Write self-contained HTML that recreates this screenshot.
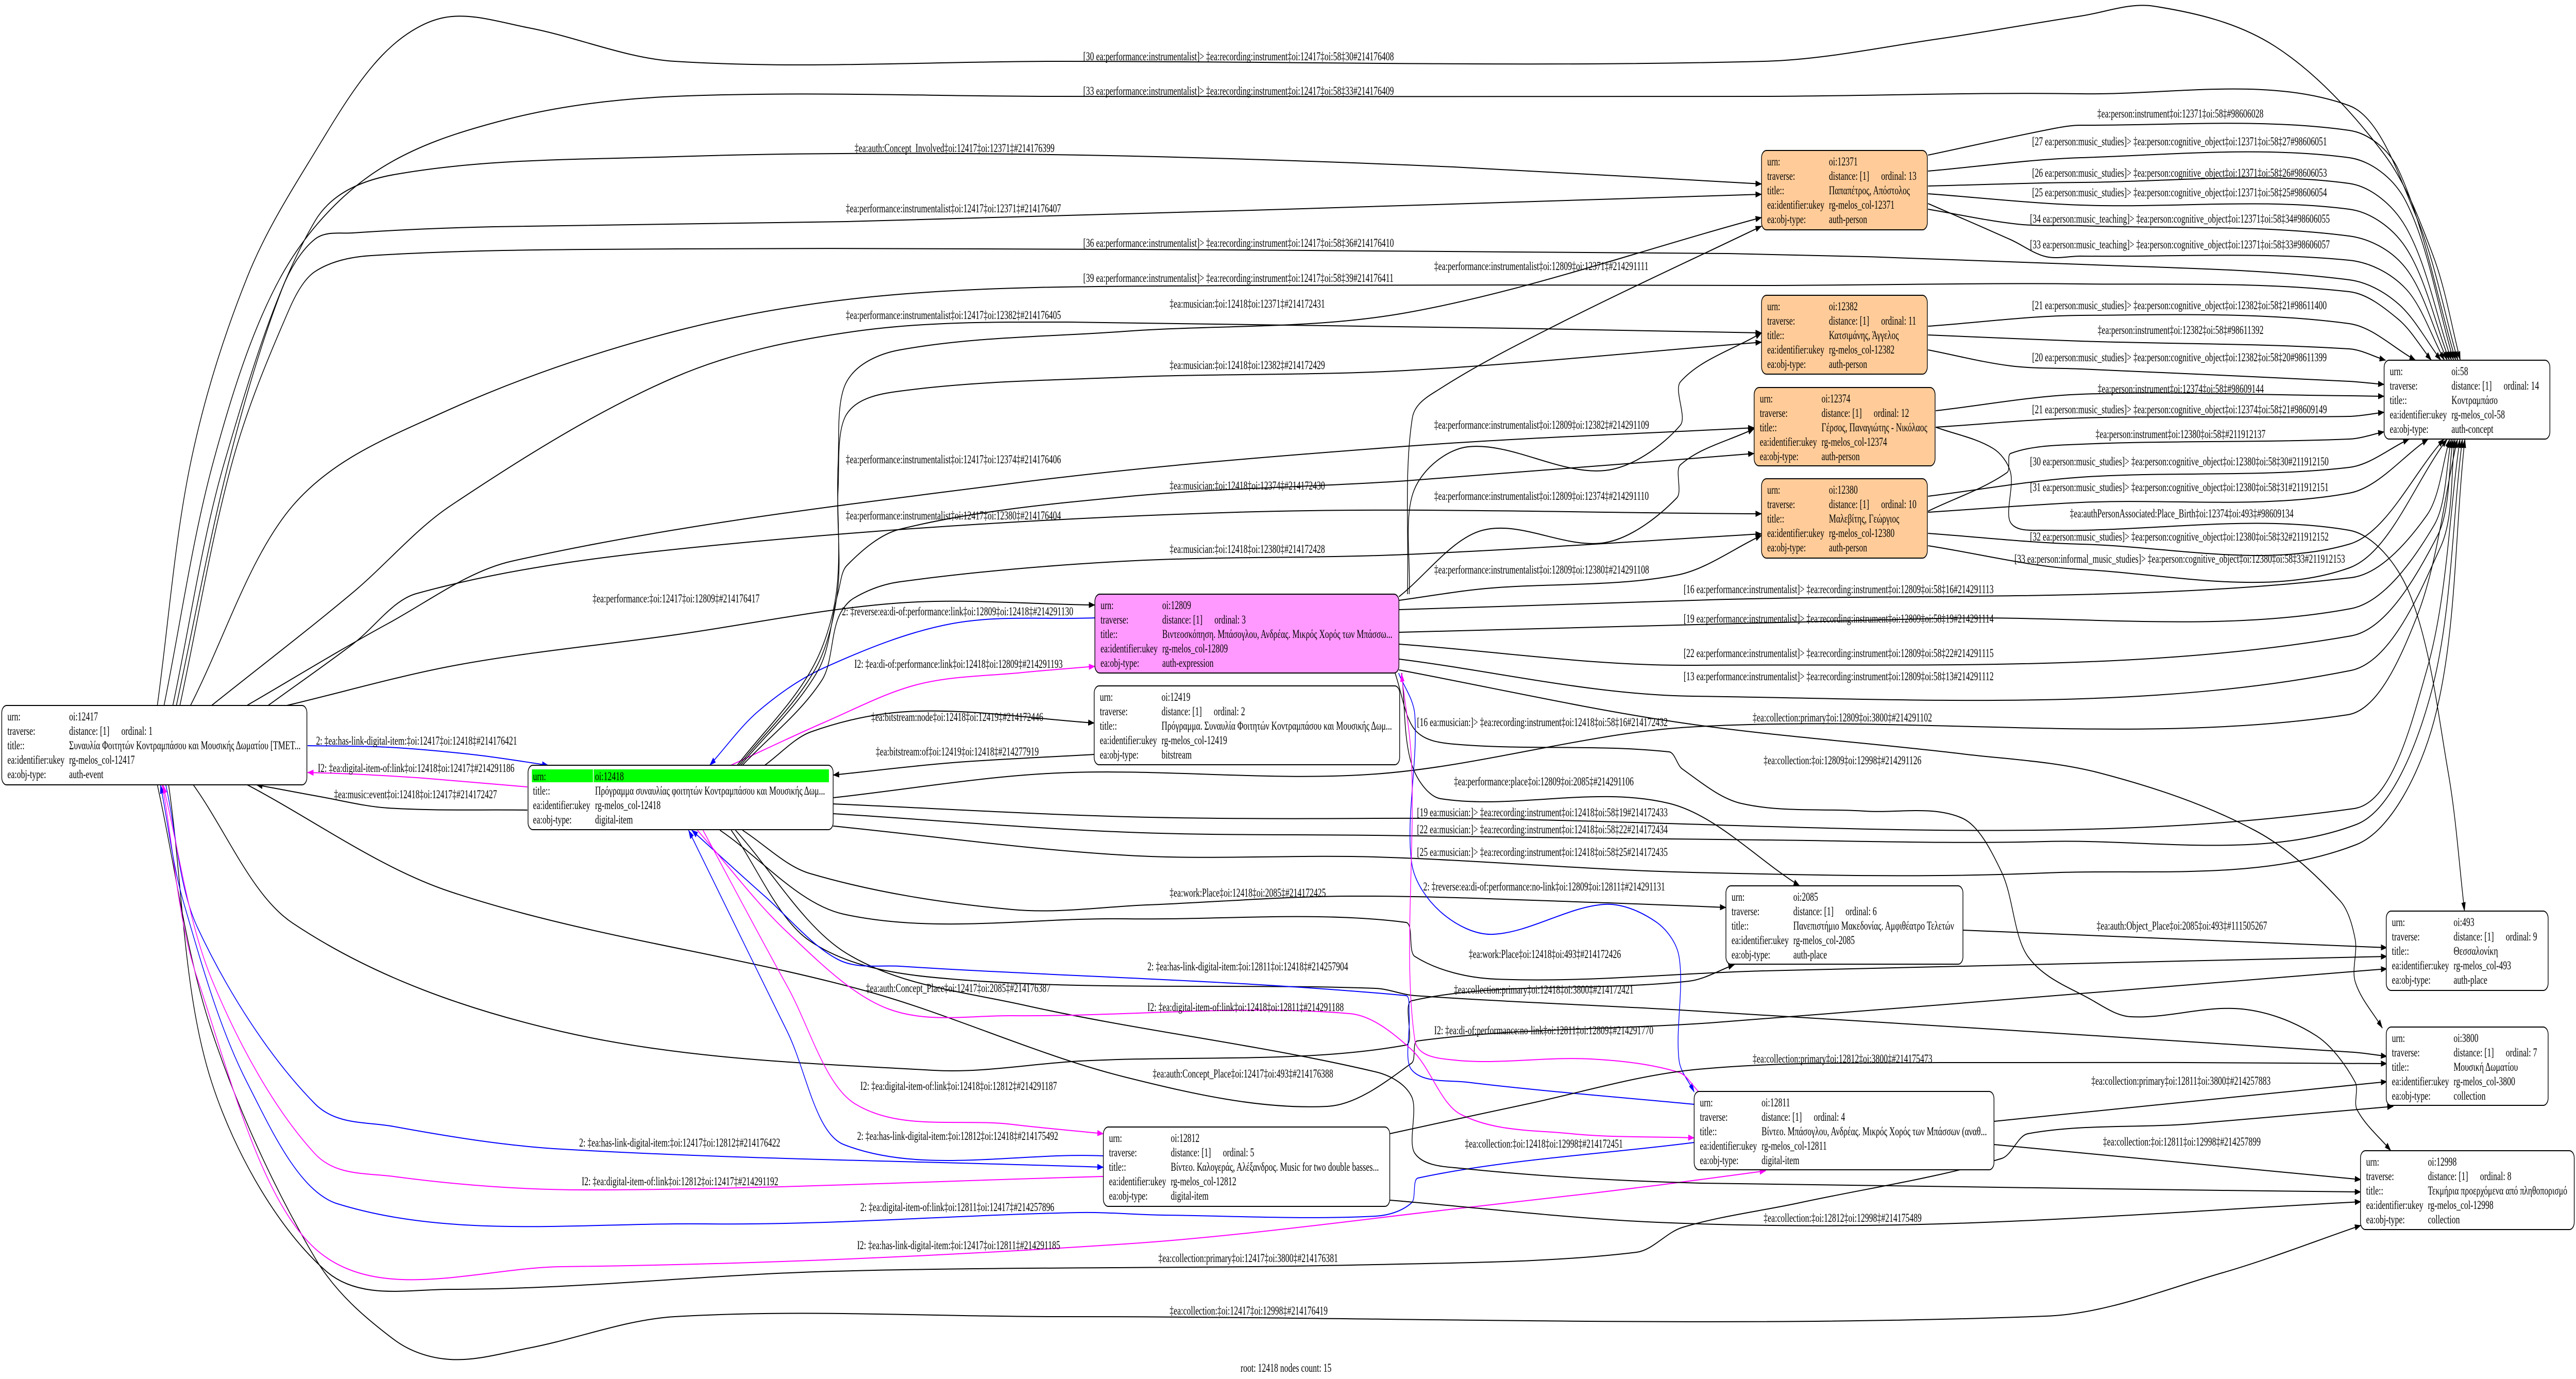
<!DOCTYPE html>
<html>
<head>
<meta charset="utf-8">
<style>
html,body{margin:0;padding:0;background:#fff;width:100%;height:100%;overflow:hidden;}
svg{display:block;width:100vw;height:100vh;}
text{font-family:"Liberation Serif","DejaVu Serif",serif;font-size:23px;fill:#000;}
.n{stroke:#000;stroke-width:2;}
</style>
</head>
<body>
<svg id="s" xmlns="http://www.w3.org/2000/svg" viewBox="0 0 7303 2676" preserveAspectRatio="none">
<defs>
<marker id="ak" viewBox="0 0 18 12" markerWidth="18" markerHeight="12" refX="17" refY="6" orient="auto" markerUnits="userSpaceOnUse"><path d="M0,0L18,6L0,12z" fill="#000"/></marker>
<marker id="ab" viewBox="0 0 18 12" markerWidth="18" markerHeight="12" refX="17" refY="6" orient="auto" markerUnits="userSpaceOnUse"><path d="M0,0L18,6L0,12z" fill="#0000ff"/></marker>
<marker id="am" viewBox="0 0 18 12" markerWidth="18" markerHeight="12" refX="17" refY="6" orient="auto" markerUnits="userSpaceOnUse"><path d="M0,0L18,6L0,12z" fill="#ff00ff"/></marker>
</defs>
<rect x="0" y="0" width="7303" height="2676" fill="#fff"/>
<g id="edges"></g>

<!-- edge labels -->
<g>
<text x="3071" y="117">[30 ea:performance:instrumentalist]&gt; ‡ea:recording:instrument‡oi:12417‡oi:58‡30#214176408</text>
<text x="3071" y="184">[33 ea:performance:instrumentalist]&gt; ‡ea:recording:instrument‡oi:12417‡oi:58‡33#214176409</text>
<text x="2423" y="295">‡ea:auth:Concept_Involved‡oi:12417‡oi:12371‡#214176399</text>
<text x="2398" y="412">‡ea:performance:instrumentalist‡oi:12417‡oi:12371‡#214176407</text>
<text x="3071" y="479">[36 ea:performance:instrumentalist]&gt; ‡ea:recording:instrument‡oi:12417‡oi:58‡36#214176410</text>
<text x="3071" y="547">[39 ea:performance:instrumentalist]&gt; ‡ea:recording:instrument‡oi:12417‡oi:58‡39#214176411</text>
<text x="4066" y="524">‡ea:performance:instrumentalist‡oi:12809‡oi:12371‡#214291111</text>
<text x="3316" y="597">‡ea:musician:‡oi:12418‡oi:12371‡#214172431</text>
<text x="2398" y="619">‡ea:performance:instrumentalist‡oi:12417‡oi:12382‡#214176405</text>
<text x="3316" y="716">‡ea:musician:‡oi:12418‡oi:12382‡#214172429</text>
<text x="4066" y="832">‡ea:performance:instrumentalist‡oi:12809‡oi:12382‡#214291109</text>
<text x="2398" y="899">‡ea:performance:instrumentalist‡oi:12417‡oi:12374‡#214176406</text>
<text x="3316" y="950">‡ea:musician:‡oi:12418‡oi:12374‡#214172430</text>
<text x="4066" y="970">‡ea:performance:instrumentalist‡oi:12809‡oi:12374‡#214291110</text>
<text x="2398" y="1008">‡ea:performance:instrumentalist‡oi:12417‡oi:12380‡#214176404</text>
<text x="3316" y="1073">‡ea:musician:‡oi:12418‡oi:12380‡#214172428</text>
<text x="4066" y="1113">‡ea:performance:instrumentalist‡oi:12809‡oi:12380‡#214291108</text>
<text x="1680" y="1169">‡ea:performance:‡oi:12417‡oi:12809‡#214176417</text>
<text x="2387" y="1194">2: ‡reverse:ea:di-of:performance:link‡oi:12809‡oi:12418‡#214291130</text>
<text x="2422" y="1296">I2: ‡ea:di-of:performance:link‡oi:12418‡oi:12809‡#214291193</text>
<text x="2470" y="1399">‡ea:bitstream:node‡oi:12418‡oi:12419‡#214172446</text>
<text x="2483" y="1466">‡ea:bitstream:of‡oi:12419‡oi:12418‡#214277919</text>
<text x="896" y="1445">2: ‡ea:has-link-digital-item:‡oi:12417‡oi:12418‡#214176421</text>
<text x="901" y="1498">I2: ‡ea:digital-item-of:link‡oi:12418‡oi:12417‡#214291186</text>
<text x="947" y="1549">‡ea:music:event‡oi:12418‡oi:12417‡#214172427</text>

<text x="5946" y="228">‡ea:person:instrument‡oi:12371‡oi:58‡#98606028</text>
<text x="5761" y="282">[27 ea:person:music_studies]&gt; ‡ea:person:cognitive_object‡oi:12371‡oi:58‡27#98606051</text>
<text x="5761" y="343">[26 ea:person:music_studies]&gt; ‡ea:person:cognitive_object‡oi:12371‡oi:58‡26#98606053</text>
<text x="5761" y="381">[25 ea:person:music_studies]&gt; ‡ea:person:cognitive_object‡oi:12371‡oi:58‡25#98606054</text>
<text x="5755" y="432">[34 ea:person:music_teaching]&gt; ‡ea:person:cognitive_object‡oi:12371‡oi:58‡34#98606055</text>
<text x="5755" y="482">[33 ea:person:music_teaching]&gt; ‡ea:person:cognitive_object‡oi:12371‡oi:58‡33#98606057</text>
<text x="5761" y="600">[21 ea:person:music_studies]&gt; ‡ea:person:cognitive_object‡oi:12382‡oi:58‡21#98611400</text>
<text x="5947" y="648">‡ea:person:instrument‡oi:12382‡oi:58‡#98611392</text>
<text x="5761" y="701">[20 ea:person:music_studies]&gt; ‡ea:person:cognitive_object‡oi:12382‡oi:58‡20#98611399</text>
<text x="5947" y="762">‡ea:person:instrument‡oi:12374‡oi:58‡#98609144</text>
<text x="5761" y="802">[21 ea:person:music_studies]&gt; ‡ea:person:cognitive_object‡oi:12374‡oi:58‡21#98609149</text>
<text x="5941" y="850">‡ea:person:instrument‡oi:12380‡oi:58‡#211912137</text>
<text x="5755" y="903">[30 ea:person:music_studies]&gt; ‡ea:person:cognitive_object‡oi:12380‡oi:58‡30#211912150</text>
<text x="5755" y="953">[31 ea:person:music_studies]&gt; ‡ea:person:cognitive_object‡oi:12380‡oi:58‡31#211912151</text>
<text x="5868" y="1004">‡ea:authPersonAssociated:Place_Birth‡oi:12374‡oi:493‡#98609134</text>
<text x="5755" y="1049">[32 ea:person:music_studies]&gt; ‡ea:person:cognitive_object‡oi:12380‡oi:58‡32#211912152</text>
<text x="5711" y="1092">[33 ea:person:informal_music_studies]&gt; ‡ea:person:cognitive_object‡oi:12380‡oi:58‡33#211912153</text>

<text x="4773" y="1151">[16 ea:performance:instrumentalist]&gt; ‡ea:recording:instrument‡oi:12809‡oi:58‡16#214291113</text>
<text x="4773" y="1208">[19 ea:performance:instrumentalist]&gt; ‡ea:recording:instrument‡oi:12809‡oi:58‡19#214291114</text>
<text x="4773" y="1275">[22 ea:performance:instrumentalist]&gt; ‡ea:recording:instrument‡oi:12809‡oi:58‡22#214291115</text>
<text x="4773" y="1320">[13 ea:performance:instrumentalist]&gt; ‡ea:recording:instrument‡oi:12809‡oi:58‡13#214291112</text>
<text x="4017" y="1409">[16 ea:musician:]&gt; ‡ea:recording:instrument‡oi:12418‡oi:58‡16#214172432</text>
<text x="4969" y="1400">‡ea:collection:primary‡oi:12809‡oi:3800‡#214291102</text>
<text x="5000" y="1483">‡ea:collection:‡oi:12809‡oi:12998‡#214291126</text>
<text x="4122" y="1524">‡ea:performance:place‡oi:12809‡oi:2085‡#214291106</text>
<text x="4017" y="1584">[19 ea:musician:]&gt; ‡ea:recording:instrument‡oi:12418‡oi:58‡19#214172433</text>
<text x="4017" y="1617">[22 ea:musician:]&gt; ‡ea:recording:instrument‡oi:12418‡oi:58‡22#214172434</text>
<text x="4017" y="1661">[25 ea:musician:]&gt; ‡ea:recording:instrument‡oi:12418‡oi:58‡25#214172435</text>
<text x="4035" y="1728">2: ‡reverse:ea:di-of:performance:no-link‡oi:12809‡oi:12811‡#214291131</text>
<text x="5944" y="1804">‡ea:auth:Object_Place‡oi:2085‡oi:493‡#111505267</text>
<text x="4164" y="1859">‡ea:work:Place‡oi:12418‡oi:493‡#214172426</text>
<text x="4122" y="1928">‡ea:collection:primary‡oi:12418‡oi:3800‡#214172421</text>
<text x="4066" y="2007">I2: ‡ea:di-of:performance:no-link‡oi:12811‡oi:12809‡#214291770</text>
<text x="4969" y="2062">‡ea:collection:primary‡oi:12812‡oi:3800‡#214175473</text>
<text x="5929" y="2105">‡ea:collection:primary‡oi:12811‡oi:3800‡#214257883</text>
<text x="4153" y="2227">‡ea:collection:‡oi:12418‡oi:12998‡#214172451</text>
<text x="5962" y="2223">‡ea:collection:‡oi:12811‡oi:12998‡#214257899</text>
<text x="5000" y="2371">‡ea:collection:‡oi:12812‡oi:12998‡#214175489</text>

<text x="3316" y="1740">‡ea:work:Place‡oi:12418‡oi:2085‡#214172425</text>
<text x="3253" y="1883">2: ‡ea:has-link-digital-item:‡oi:12811‡oi:12418‡#214257904</text>
<text x="2455" y="1925">‡ea:auth:Concept_Place‡oi:12417‡oi:2085‡#214176387</text>
<text x="3253" y="1962">I2: ‡ea:digital-item-of:link‡oi:12418‡oi:12811‡#214291188</text>
<text x="3268" y="2091">‡ea:auth:Concept_Place‡oi:12417‡oi:493‡#214176388</text>
<text x="2439" y="2115">I2: ‡ea:digital-item-of:link‡oi:12418‡oi:12812‡#214291187</text>
<text x="2430" y="2212">2: ‡ea:has-link-digital-item:‡oi:12812‡oi:12418‡#214175492</text>
<text x="1642" y="2225">2: ‡ea:has-link-digital-item:‡oi:12417‡oi:12812‡#214176422</text>
<text x="1649" y="2300">I2: ‡ea:digital-item-of:link‡oi:12812‡oi:12417‡#214291192</text>
<text x="2439" y="2350">2: ‡ea:digital-item-of:link‡oi:12811‡oi:12417‡#214257896</text>
<text x="2430" y="2424">I2: ‡ea:has-link-digital-item:‡oi:12417‡oi:12811‡#214291185</text>
<text x="3284" y="2449">‡ea:collection:primary‡oi:12417‡oi:3800‡#214176381</text>
<text x="3316" y="2551">‡ea:collection:‡oi:12417‡oi:12998‡#214176419</text>
<text x="3517" y="2662">root: 12418 nodes count: 15</text>
</g>

<!-- nodes -->
<g>
<rect class="n" x="5" y="1369" width="865" height="154" rx="14" fill="#fff"/>
<text x="21" y="1398">urn:</text><text x="196" y="1398">oi:12417</text>
<text x="21" y="1426">traverse:</text><text x="196" y="1426">distance: [1]</text><text x="344" y="1426">ordinal: 1</text>
<text x="21" y="1454">title::</text><text x="196" y="1454">Συναυλία Φοιτητών Κοντραμπάσου και Μουσικής Δωματίου [ΤΜΕΤ...</text>
<text x="21" y="1482">ea:identifier:ukey</text><text x="196" y="1482">rg-melos_col-12417</text>
<text x="21" y="1510">ea:obj-type:</text><text x="196" y="1510">auth-event</text>

<rect class="n" x="1497" y="1485" width="865" height="125" rx="14" fill="#fff"/>
<rect x="1508" y="1493" width="842" height="25" fill="#00ff00"/>
<rect x="1681" y="1493" width="2" height="25" fill="#fff"/>
<text x="1511" y="1514">urn:</text><text x="1687" y="1514">oi:12418</text>
<text x="1511" y="1542">title::</text><text x="1687" y="1542">Πρόγραμμα συναυλίας φοιτητών Κοντραμπάσου και Μουσικής Δωμ...</text>
<text x="1511" y="1570">ea:identifier:ukey</text><text x="1687" y="1570">rg-melos_col-12418</text>
<text x="1511" y="1598">ea:obj-type:</text><text x="1687" y="1598">digital-item</text>

<rect class="n" x="3104" y="1153" width="862" height="153" rx="14" fill="#ff99ff"/>
<text x="3120" y="1182">urn:</text><text x="3295" y="1182">oi:12809</text>
<text x="3120" y="1210">traverse:</text><text x="3295" y="1210">distance: [1]</text><text x="3443" y="1210">ordinal: 3</text>
<text x="3120" y="1238">title::</text><text x="3295" y="1238">Βιντεοσκόπηση. Μπάσογλου, Ανδρέας. Μικρός Χορός των Μπάσσω...</text>
<text x="3120" y="1266">ea:identifier:ukey</text><text x="3295" y="1266">rg-melos_col-12809</text>
<text x="3120" y="1294">ea:obj-type:</text><text x="3295" y="1294">auth-expression</text>

<rect class="n" x="3102" y="1331" width="866" height="153" rx="14" fill="#fff"/>
<text x="3118" y="1360">urn:</text><text x="3293" y="1360">oi:12419</text>
<text x="3118" y="1388">traverse:</text><text x="3293" y="1388">distance: [1]</text><text x="3441" y="1388">ordinal: 2</text>
<text x="3118" y="1416">title::</text><text x="3293" y="1416">Πρόγραμμα. Συναυλία Φοιτητών Κοντραμπάσου και Μουσικής Δωμ...</text>
<text x="3118" y="1444">ea:identifier:ukey</text><text x="3293" y="1444">rg-melos_col-12419</text>
<text x="3118" y="1472">ea:obj-type:</text><text x="3293" y="1472">bitstream</text>

<rect class="n" x="4994" y="292" width="470" height="154" rx="14" fill="#ffcc99"/>
<text x="5010" y="321">urn:</text><text x="5185" y="321">oi:12371</text>
<text x="5010" y="349">traverse:</text><text x="5185" y="349">distance: [1]</text><text x="5333" y="349">ordinal: 13</text>
<text x="5010" y="377">title::</text><text x="5185" y="377">Παπαπέτρος, Απόστολος</text>
<text x="5010" y="405">ea:identifier:ukey</text><text x="5185" y="405">rg-melos_col-12371</text>
<text x="5010" y="433">ea:obj-type:</text><text x="5185" y="433">auth-person</text>

<rect class="n" x="4994" y="573" width="470" height="153" rx="14" fill="#ffcc99"/>
<text x="5010" y="602">urn:</text><text x="5185" y="602">oi:12382</text>
<text x="5010" y="630">traverse:</text><text x="5185" y="630">distance: [1]</text><text x="5333" y="630">ordinal: 11</text>
<text x="5010" y="658">title::</text><text x="5185" y="658">Κατσιμάνης, Άγγελος</text>
<text x="5010" y="686">ea:identifier:ukey</text><text x="5185" y="686">rg-melos_col-12382</text>
<text x="5010" y="714">ea:obj-type:</text><text x="5185" y="714">auth-person</text>

<rect class="n" x="4973" y="752" width="513" height="152" rx="14" fill="#ffcc99"/>
<text x="4989" y="781">urn:</text><text x="5164" y="781">oi:12374</text>
<text x="4989" y="809">traverse:</text><text x="5164" y="809">distance: [1]</text><text x="5312" y="809">ordinal: 12</text>
<text x="4989" y="837">title::</text><text x="5164" y="837">Γέρσος, Παναγιώτης - Νικόλαος</text>
<text x="4989" y="865">ea:identifier:ukey</text><text x="5164" y="865">rg-melos_col-12374</text>
<text x="4989" y="893">ea:obj-type:</text><text x="5164" y="893">auth-person</text>

<rect class="n" x="4994" y="929" width="470" height="154" rx="14" fill="#ffcc99"/>
<text x="5010" y="958">urn:</text><text x="5185" y="958">oi:12380</text>
<text x="5010" y="986">traverse:</text><text x="5185" y="986">distance: [1]</text><text x="5333" y="986">ordinal: 10</text>
<text x="5010" y="1014">title::</text><text x="5185" y="1014">Μαλεβίτης, Γεώργιος</text>
<text x="5010" y="1042">ea:identifier:ukey</text><text x="5185" y="1042">rg-melos_col-12380</text>
<text x="5010" y="1070">ea:obj-type:</text><text x="5185" y="1070">auth-person</text>

<rect class="n" x="6759" y="699" width="470" height="153" rx="14" fill="#fff"/>
<text x="6775" y="728">urn:</text><text x="6950" y="728">oi:58</text>
<text x="6775" y="756">traverse:</text><text x="6950" y="756">distance: [1]</text><text x="7098" y="756">ordinal: 14</text>
<text x="6775" y="784">title::</text><text x="6950" y="784">Κοντραμπάσο</text>
<text x="6775" y="812">ea:identifier:ukey</text><text x="6950" y="812">rg-melos_col-58</text>
<text x="6775" y="840">ea:obj-type:</text><text x="6950" y="840">auth-concept</text>

<rect class="n" x="4893" y="1719" width="672" height="152" rx="14" fill="#fff"/>
<text x="4909" y="1748">urn:</text><text x="5084" y="1748">oi:2085</text>
<text x="4909" y="1776">traverse:</text><text x="5084" y="1776">distance: [1]</text><text x="5232" y="1776">ordinal: 6</text>
<text x="4909" y="1804">title::</text><text x="5084" y="1804">Πανεπιστήμιο Μακεδονίας. Αμφιθέατρο Τελετών</text>
<text x="4909" y="1832">ea:identifier:ukey</text><text x="5084" y="1832">rg-melos_col-2085</text>
<text x="4909" y="1860">ea:obj-type:</text><text x="5084" y="1860">auth-place</text>

<rect class="n" x="3128" y="2187" width="812" height="154" rx="14" fill="#fff"/>
<text x="3144" y="2216">urn:</text><text x="3319" y="2216">oi:12812</text>
<text x="3144" y="2244">traverse:</text><text x="3319" y="2244">distance: [1]</text><text x="3467" y="2244">ordinal: 5</text>
<text x="3144" y="2272">title::</text><text x="3319" y="2272">Βίντεο. Καλογεράς, Αλέξανδρος. Music for two double basses...</text>
<text x="3144" y="2300">ea:identifier:ukey</text><text x="3319" y="2300">rg-melos_col-12812</text>
<text x="3144" y="2328">ea:obj-type:</text><text x="3319" y="2328">digital-item</text>

<rect class="n" x="4803" y="2118" width="850" height="152" rx="14" fill="#fff"/>
<text x="4819" y="2147">urn:</text><text x="4994" y="2147">oi:12811</text>
<text x="4819" y="2175">traverse:</text><text x="4994" y="2175">distance: [1]</text><text x="5142" y="2175">ordinal: 4</text>
<text x="4819" y="2203">title::</text><text x="4994" y="2203">Βίντεο. Μπάσογλου, Ανδρέας. Μικρός Χορός των Μπάσσων (αναθ...</text>
<text x="4819" y="2231">ea:identifier:ukey</text><text x="4994" y="2231">rg-melos_col-12811</text>
<text x="4819" y="2259">ea:obj-type:</text><text x="4994" y="2259">digital-item</text>

<rect class="n" x="6765" y="1768" width="459" height="154" rx="14" fill="#fff"/>
<text x="6781" y="1797">urn:</text><text x="6956" y="1797">oi:493</text>
<text x="6781" y="1825">traverse:</text><text x="6956" y="1825">distance: [1]</text><text x="7104" y="1825">ordinal: 9</text>
<text x="6781" y="1853">title::</text><text x="6956" y="1853">Θεσσαλονίκη</text>
<text x="6781" y="1881">ea:identifier:ukey</text><text x="6956" y="1881">rg-melos_col-493</text>
<text x="6781" y="1909">ea:obj-type:</text><text x="6956" y="1909">auth-place</text>

<rect class="n" x="6765" y="1993" width="459" height="152" rx="14" fill="#fff"/>
<text x="6781" y="2022">urn:</text><text x="6956" y="2022">oi:3800</text>
<text x="6781" y="2050">traverse:</text><text x="6956" y="2050">distance: [1]</text><text x="7104" y="2050">ordinal: 7</text>
<text x="6781" y="2078">title::</text><text x="6956" y="2078">Μουσική Δωματίου</text>
<text x="6781" y="2106">ea:identifier:ukey</text><text x="6956" y="2106">rg-melos_col-3800</text>
<text x="6781" y="2134">ea:obj-type:</text><text x="6956" y="2134">collection</text>

<rect class="n" x="6692" y="2233" width="606" height="153" rx="14" fill="#fff"/>
<text x="6708" y="2262">urn:</text><text x="6883" y="2262">oi:12998</text>
<text x="6708" y="2290">traverse:</text><text x="6883" y="2290">distance: [1]</text><text x="7031" y="2290">ordinal: 8</text>
<text x="6708" y="2318">title::</text><text x="6883" y="2318">Τεκμήρια προερχόμενα από πληθοπορισμό</text>
<text x="6708" y="2346">ea:identifier:ukey</text><text x="6883" y="2346">rg-melos_col-12998</text>
<text x="6708" y="2374">ea:obj-type:</text><text x="6883" y="2374">collection</text>
</g>
</svg>
<script>
(function(){
var S={k:'#000000',b:'#0000ff',m:'#ff00ff'};
var E=[
['k',[[446,1369],[542,893],[702,536],[893,295],[1084,107],[1260,34],[1499,54],[1913,119],[3000,119],[5000,119],[5500,75],[5900,31],[6106,12],[6450,90],[6760,300],[6900,500],[6975,699]]],
['k',[[465,1369],[606,893],[797,536],[1052,339],[1435,232],[1913,187],[3000,187],[5000,187],[5900,182],[6660,205],[6850,420],[6968,699]]],
['k',[[490,1369],[638,893],[893,429],[1116,339],[1913,304],[2870,299],[3986,320],[4994,357]]],
['k',[[500,1369],[650,893],[800,560],[893,464],[1000,452],[1400,440],[2400,430],[3550,408],[4994,377]]],
['k',[[510,1369],[660,893],[820,600],[893,527],[1052,496],[1913,483],[3500,485],[4900,492],[5900,513],[6660,543],[6800,590],[6920,699]]],
['k',[[540,1369],[829,982],[1244,804],[1913,643],[2551,571],[3508,554],[5000,554],[5900,551],[6660,566],[6800,620],[6893,699]]],
['k',[[600,1369],[1000,1150],[1276,982],[1913,732],[2424,643],[3029,625],[4994,646]]],
['k',[[700,1369],[1100,1210],[1451,1089],[2870,938],[3986,866],[4973,830]]],
['k',[[760,1369],[1000,1250],[1180,1152],[2000,1060],[3508,994],[4994,997]]],
['k',[[813,1369],[1300,1290],[1913,1232],[2551,1170],[3104,1174]]],
['b',[[872,1447],[1100,1450],[1350,1465],[1554,1485]]],
['m',[[1495,1527],[1200,1510],[1000,1502],[872,1499]]],
['k',[[1495,1572],[1100,1568],[900,1545],[727,1523]]],
['k',[[446,1523],[600,2000],[893,2441],[1116,2599],[1275,2638],[1499,2616],[1913,2555],[3000,2555],[5800,2554],[6300,2470],[6693,2378]]],
['k',[[478,1523],[600,2100],[925,2467],[1275,2502],[2360,2467],[3900,2454],[4640,2430],[4769,2382],[5102,2334],[5675,2248],[5749,2200],[6212,2181],[6785,2147]]],
['m',[[460,1523],[560,1900],[909,2432],[1594,2458],[3189,2414],[4200,2340],[4700,2300],[5006,2272]]],
['b',[[4803,2217],[4020,2286],[4002,2334],[3900,2360],[3300,2358],[3061,2353],[2000,2375],[957,2336],[700,2100],[520,1750],[455,1523]]],
['b',[[470,1523],[560,1800],[893,2142],[1116,2186],[1594,2230],[3128,2265]]],
['m',[[3128,2283],[1658,2309],[1116,2283],[893,2239],[600,1900],[462,1523]]],
['k',[[548,1523],[829,1791],[1594,2002],[2647,2077],[3061,2059],[3986,2028],[4002,1942],[4788,1904],[4917,1872]]],
['k',[[701,1523],[1275,1730],[2455,1923],[3189,2090],[3763,2147],[4002,2063],[4018,2020],[4847,1985],[5500,1950],[6767,1880]]],
['k',[[2168,1485],[2300,1420],[2600,1380],[3102,1403]]],
['k',[[3102,1464],[2700,1480],[2362,1504]]],
['b',[[3104,1199],[2700,1210],[2336,1296],[2150,1380],[2012,1485]]],
['m',[[2072,1485],[2336,1402],[2603,1328],[2900,1305],[3104,1293]]],
['k',[[2090,1485],[2300,1300],[2371,1150],[2376,900],[2400,741],[2551,679],[3189,643],[3986,607],[4994,422]]],
['k',[[2095,1485],[2310,1300],[2374,1150],[2376,950],[2400,804],[2551,759],[3189,732],[3986,719],[4994,664]]],
['k',[[2100,1485],[2320,1300],[2376,1150],[2400,1098],[2551,1027],[3189,964],[3986,933],[4973,880]]],
['k',[[2105,1485],[2330,1320],[2376,1200],[2420,1161],[2551,1129],[3189,1089],[3986,1076],[4994,1036]]],
['k',[[2362,1548],[3000,1500],[3900,1502],[4788,1411],[6656,1387],[6850,1200],[6967,852]]],
['k',[[2362,1560],[3200,1585],[3900,1588],[6674,1569],[6880,1300],[6974,852]]],
['k',[[2362,1579],[3200,1615],[3900,1621],[5000,1630],[5800,1633],[6680,1600],[6890,1350],[6981,852]]],
['k',[[2362,1603],[3200,1660],[3900,1663],[4800,1693],[5800,1694],[6680,1639],[6900,1400],[6988,852]]],
['k',[[2105,1611],[2296,1695],[2870,1765],[3253,1756],[3827,1739],[4560,1752],[4893,1761]]],
['k',[[2041,1611],[2392,1774],[3189,1783],[3986,1790],[4011,1856],[4241,1900],[5000,1884],[6767,1856]]],
['k',[[2073,1611],[2296,1826],[2700,1900],[3900,1918],[4011,1932],[4788,1961],[6674,2042],[6767,2050]]],
['k',[[2085,1611],[2400,1850],[2900,1950],[3900,2080],[4002,2128],[4011,2238],[4140,2267],[4825,2296],[6693,2313]]],
['b',[[4803,2143],[4159,2100],[4002,2076],[3995,1967],[3986,1932],[2551,1875],[2376,1862],[2168,1739],[1961,1611]]],
['m',[[1977,1611],[2232,1809],[2519,1958],[2870,1971],[3827,1967],[4002,2037],[4140,2162],[4455,2200],[4803,2208]]],
['m',[[1993,1611],[2232,1914],[2424,2142],[2870,2182],[3128,2200]]],
['b',[[3128,2243],[2392,2221],[2232,2002],[1952,1611]]],
['k',[[3990,1153],[4004,811],[4081,755],[4417,629],[4994,439]]],
['k',[[3995,1153],[4009,951],[4162,867],[4550,913],[4764,825],[4764,741],[4994,646]]],
['k',[[3966,1158],[4203,1029],[4550,1053],[4754,966],[4764,902],[4973,832]]],
['k',[[3966,1165],[4213,1142],[4754,1116],[4994,1039]]],
['k',[[3966,1183],[4800,1165],[6665,1121],[6880,1000],[6945,852]]],
['k',[[3966,1227],[5500,1200],[6665,1181],[6900,1020],[6950,852]]],
['k',[[3966,1250],[4800,1291],[6665,1234],[6910,1040],[6955,852]]],
['k',[[3966,1279],[4800,1351],[6665,1301],[6920,1060],[6960,852]]],
['k',[[3974,1306],[4002,1483],[4085,1550],[4732,1559],[5102,1719]]],
['k',[[3966,1300],[4751,1401],[5564,1463],[5953,1500],[6394,1612],[6634,1748],[6677,1823],[6677,1905],[6754,1995]]],
['k',[[3955,1306],[4011,1416],[4122,1444],[4732,1459],[4769,1492],[4936,1559],[5287,1574],[5564,1588],[5675,1693],[5749,1856],[5934,1942],[6040,1973],[6356,1958],[6567,2010],[6677,2100],[6682,2153],[6778,2233]]],
['b',[[3965,1306],[4011,1387],[4002,1674],[4085,1770],[4233,1813],[4547,1755],[4695,1789],[4760,1856],[4760,2057],[4803,2119]]],
['m',[[4815,2118],[4760,2081],[4510,2055],[4122,2057],[4011,2018],[4002,1483],[3973,1306]]],
['k',[[3940,2200],[4325,2143],[4800,2076],[5500,2062],[6767,2064]]],
['k',[[3940,2329],[4700,2372],[5500,2375],[6693,2332]]],
['k',[[5653,2176],[6767,2099]]],
['k',[[5653,2221],[6693,2289]]],
['k',[[5565,1805],[6767,1839]]],
['k',[[5466,301],[5818,250],[5900,243],[6660,253],[6800,330],[6962,699]]],
['k',[[5466,332],[5900,306],[6660,306],[6820,390],[6956,699]]],
['k',[[5466,361],[5900,354],[6660,356],[6820,440],[6950,699]]],
['k',[[5466,376],[5900,398],[6660,406],[6820,480],[6944,699]]],
['k',[[5466,406],[5720,435],[5900,438],[6660,458],[6820,520],[6938,699]]],
['k',[[5466,395],[5700,465],[5800,498],[5900,497],[6660,505],[6820,560],[6930,699]]],
['k',[[5466,633],[5900,612],[6660,628],[6848,699]]],
['k',[[5466,650],[5900,662],[6660,677],[6763,699]]],
['k',[[5466,679],[5700,710],[5900,716],[6660,740],[6759,746]]],
['k',[[5488,797],[5900,765],[6660,768],[6759,769]]],
['k',[[5488,829],[5900,811],[6660,808],[6759,800]]],
['k',[[5488,829],[5650,870],[5700,917],[5700,1014],[5800,1029],[6660,1029],[6830,1150],[6941,1500],[6987,1768]]],
['k',[[5466,992],[5690,917],[5700,880],[5900,862],[6660,852],[6759,838]]],
['k',[[5466,963],[5900,926],[6660,907],[6830,852]]],
['k',[[5466,994],[5900,975],[6660,957],[6884,852]]],
['k',[[5466,1035],[5900,1056],[6660,1056],[6929,852]]],
['k',[[5466,1059],[5900,1105],[6660,1102],[6938,852]]]
];
function dist(a,b){var dx=a[0]-b[0],dy=a[1]-b[1];return Math.sqrt(dx*dx+dy*dy);}
var g=document.getElementById('edges');
var ns='http://www.w3.org/2000/svg';
for(var j=0;j<E.length;j++){
  var c=E[j][0],p=E[j][1];
  var d='M'+p[0][0]+','+p[0][1];
  for(var i=0;i<p.length-1;i++){
    var p0=p[i-1]||p[i],p1=p[i],p2=p[i+1],p3=p[i+2]||p2;
    var d01=dist(p0,p1),d12=dist(p1,p2),d23=dist(p2,p3);
    var f1=(d01+d12)>0?d12/(3*(d01+d12)):0;
    var f2=(d12+d23)>0?d12/(3*(d12+d23)):0;
    var c1x=p1[0]+(p2[0]-p0[0])*f1,c1y=p1[1]+(p2[1]-p0[1])*f1;
    var c2x=p2[0]-(p3[0]-p1[0])*f2,c2y=p2[1]-(p3[1]-p1[1])*f2;
    d+=' C'+c1x.toFixed(1)+','+c1y.toFixed(1)+' '+c2x.toFixed(1)+','+c2y.toFixed(1)+' '+p2[0]+','+p2[1];
  }
  var e=document.createElementNS(ns,'path');
  e.setAttribute('d',d);
  e.setAttribute('stroke',S[c]);
  e.setAttribute('fill','none');
  e.setAttribute('stroke-width','2');
  e.setAttribute('marker-end','url(#a'+c+')');
  g.appendChild(e);
}
})();
</script>
</body>
</html>
